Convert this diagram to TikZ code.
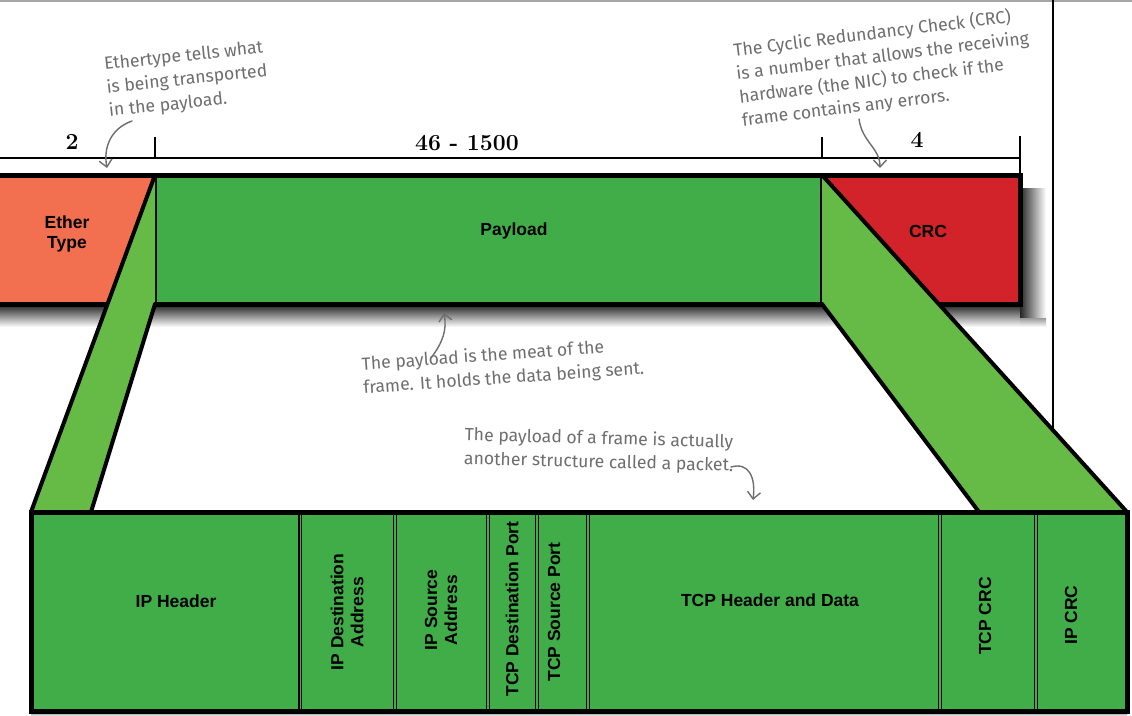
\documentclass[tikz,border=0pt]{standalone}
\usepackage{fontspec}
\newfontfamily\labfont{Liberation Sans}
\newfontfamily\handfont{Fira Sans}
\usetikzlibrary{arrows.meta}
\definecolor{ethorange}{HTML}{F26F50}
\definecolor{paygreen}{HTML}{40AD49}
\definecolor{crcred}{HTML}{D2232A}
\definecolor{stripgreen}{HTML}{66BB46}
\definecolor{notegray}{HTML}{6E6E6E}
\begin{document}
\begin{tikzpicture}[x=1pt,y=-1pt,
  lab/.style={font=\labfont\bfseries\fontsize{17.5}{20}\selectfont, align=center, text=black, inner sep=0pt},
  note/.style={font=\handfont\fontsize{17.6}{23.5}\selectfont, text=notegray, align=left, inner sep=0pt},
  notearrow/.style={draw=notegray, line width=1.4pt, line cap=round, -{Straight Barb[length=7pt,width=13pt]}},
  dimlab/.style={font=\bfseries\fontsize{23}{23}\selectfont, inner sep=0pt},
  cell/.style={draw=black, line width=1.8pt, fill=paygreen, inner sep=0pt, outer sep=0pt},
  fcell/.style={inner sep=0pt, outer sep=0pt},
  edge/.style={draw=black, line width=4pt},
]
\useasboundingbox (0,0) rectangle (1132,715);
\clip (0,0) rectangle (1132,715);
\fill[white] (0,0) rectangle (1132,715);

% page lines
\draw[gray!70, line width=1.5pt] (0,1) -- (1132,1);
\draw[black, line width=2pt] (1053,0) -- (1053,715);

% dimension line
\coordinate (d0) at (-5,158);
\coordinate (d1) at (155,158);
\coordinate (d2) at (822,158);
\coordinate (d3) at (1020,158);
\coordinate (t1) at (155,137);
\coordinate (t2) at (822,137);
\coordinate (t3) at (1020,136);
\draw[line width=2.5pt] (d0) -- (d3);
\draw[line width=2pt] (d1) -- (t1);
\draw[line width=2pt] (d2) -- (t2);
\draw[line width=2pt] (t3) -- (1020,176);
\node[dimlab] (n2) at (72,142) {2};
\node[dimlab] (n46) at (467,143) {46 - 1500};
\node[dimlab] (n4) at (917,140) {4};

% shadows of the frame
\shade[top color=black!85, bottom color=white] (0,305) rectangle (1040,327);
\shade[left color=black!85, right color=white] (1020,188) rectangle (1046,318);
\shade[top color=black!40, bottom color=white] (1020,318) rectangle (1046,327);

% frame cells
\node[fcell, fill=ethorange, minimum width=170pt, minimum height=129pt] (eth) at (70,239.5) {};
\node[fcell, fill=paygreen, minimum width=667pt, minimum height=129pt] (pay) at (488.5,239.5) {};
\node[fcell, fill=crcred, minimum width=198pt, minimum height=129pt] (crc) at (921,239.5) {};
\draw[line width=5pt, line join=miter] (-10,175) rectangle (1020,304);
\draw[line width=4pt] (pay.north west) -- (pay.south west);
\draw[line width=4pt] (pay.north east) -- (pay.south east);

% labels of the frame
\node[lab] (ethl) at (67,234) {Ether\\Type};
\node[lab] (payl) at (514,231) {Payload};
\node[lab] (crcl) at (928,231) {CRC};

% packet corners
\coordinate (pl) at (31,512);
\coordinate (pr) at (1127,512);
\coordinate (pli) at (91,512);
\coordinate (pri) at (979,512);

% strips
\fill[stripgreen] (pay.north west) -- (pay.south west) -- (pli) -- (pl) -- cycle;
\draw[edge, line cap=round] (pay.north west) -- (pl);
\draw[edge, line cap=round] (pay.south west) -- (pli);
\fill[stripgreen] (pay.north east) -- (pr) -- (pri) -- (pay.south east) -- cycle;
\draw[edge, line cap=round] (pay.north east) -- (pr);
\draw[edge, line cap=round] (pay.south east) -- (pri);

% packet shadow
\shade[top color=black!70, bottom color=white] (31,711) rectangle (1127,716);

% packet
\fill[paygreen] (31,512) rectangle (1127,711);
\node[cell, minimum width=267pt, minimum height=197pt] (iph) at (165.5,611.5) {};
\node[cell, minimum width=92pt, minimum height=197pt] (ipd) at (347.5,611.5) {};
\node[cell, minimum width=90pt, minimum height=197pt] (ips) at (441.5,611.5) {};
\node[cell, minimum width=46pt, minimum height=197pt] (tdp) at (512.5,611.5) {};
\node[cell, minimum width=48pt, minimum height=197pt] (tsp) at (562.5,611.5) {};
\node[cell, minimum width=349pt, minimum height=197pt] (thd) at (764,611.5) {};
\node[cell, minimum width=93pt, minimum height=197pt] (tcrc) at (988,611.5) {};
\node[cell, minimum width=88pt, minimum height=197pt] (ipcrc) at (1081.5,611.5) {};
\draw[line width=5pt] (pl) rectangle (1127,711);

\node[lab] (iphl) at (176,601) {IP Header};
\node[lab, rotate=90] (ipdl) at (347,612) {IP Destination\\Address};
\node[lab, rotate=90] (ipsl) at (441,610) {IP Source\\Address};
\node[lab, rotate=90] (tdpl) at (512,609) {TCP Destination Port};
\node[lab, rotate=90] (tspl) at (554,612) {TCP Source Port};
\node[lab] (thdl) at (770,600) {TCP Header and Data};
\node[lab, rotate=90] (tcrcl) at (985,616) {TCP CRC};
\node[lab, rotate=90] (ipcrcl) at (1071,615) {IP CRC};

% notes
\node[note, rotate=6] (note1) at (187,80) {Ethertype tells what\\is being transported\\in the payload.};
\node[note, rotate=7] (note2) at (884,68) {The Cyclic Redundancy Check (CRC)\\is a number that allows the receiving\\hardware (the NIC) to check if the\\frame contains any errors.};
\node[note, rotate=4] (note3) at (503,367) {The payload is the meat of the\\frame. It holds the data being sent.};
\node[note, rotate=-1.5] (note4) at (599,451) {The payload of a frame is actually\\another structure called a packet.};

\coordinate (a1s) at (132,121);
\coordinate (a1e) at (107,168);
\draw[notearrow] (a1s) .. controls (112,128) and (103,146) .. (a1e);
\coordinate (a2s) at (859,119);
\coordinate (a2e) at (880,168);
\draw[notearrow] (a2s) .. controls (862,142) and (880,148) .. (a2e);
\coordinate (a3s) at (431,358);
\coordinate (a3e) at (444,313);
\draw[notearrow] (a3s) .. controls (443,342) and (447,330) .. (a3e);
\coordinate (a4s) at (731,467);
\coordinate (a4e) at (753,500);
\draw[notearrow] (a4s) .. controls (748,462) and (756,476) .. (a4e);
\end{tikzpicture}
\end{document}
